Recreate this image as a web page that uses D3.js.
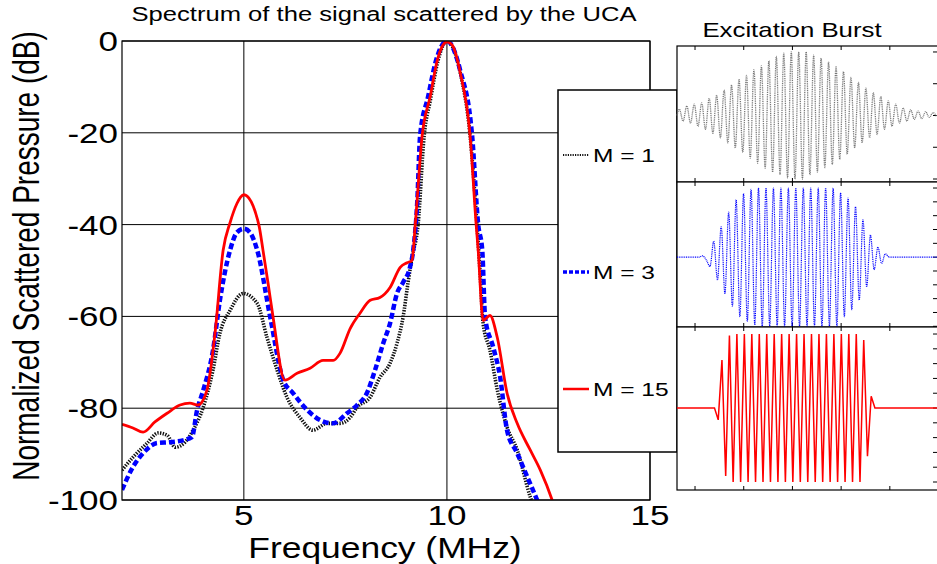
<!DOCTYPE html>
<html>
<head>
<meta charset="utf-8">
<script src="https://cdn.jsdelivr.net/npm/d3@7"></script>
<style>
  body { margin: 0; background: #fff; }
  text { font-family: "Liberation Sans", Arial, sans-serif; fill: #000; }
</style>
</head>
<body>
<div id="chart"></div>
<script>
// spectrum data (frequency in MHz, level in dB)
var m1Freq = [2.0, 2.27, 2.62, 2.89, 3.11, 3.31, 3.55, 3.75, 4.0, 4.24, 4.41, 4.66, 4.98, 5.33, 5.57, 5.82, 6.06, 6.38, 6.7, 7.05, 7.37, 7.62, 7.79, 8.11, 8.35, 8.6, 8.77, 8.92, 9.04, 9.14, 9.29, 9.44, 9.59, 9.78, 10.0, 10.33, 10.57, 10.74, 10.82, 10.89, 11.06, 11.24, 11.48, 11.73, 12.05, 12.2];
var m1Db   = [-93.5, -90.7, -87.6, -85.4, -85.9, -88.5, -87.4, -84.8, -79.8, -71.7, -63.7, -58.7, -55.0, -57.2, -64.6, -71.7, -77.6, -82.0, -84.8, -83.3, -83.3, -82.0, -79.8, -77.6, -73.3, -70.2, -65.9, -60.2, -52.8, -47.2, -40, -20.6, -13, -4.3, 0, -7, -20.6, -40, -51, -61.5, -67.4, -76, -84.1, -89.1, -99.3, -103];

var m3Freq = [2.0, 2.27, 2.52, 2.86, 3.18, 3.5, 3.72, 3.85, 4.0, 4.24, 4.41, 4.66, 4.83, 5.0, 5.15, 5.33, 5.65, 5.97, 6.21, 6.56, 6.88, 7.2, 7.54, 7.79, 8.03, 8.23, 8.43, 8.6, 8.77, 8.92, 9.09, 9.17, 9.27, 9.34, 9.54, 9.73, 10.0, 10.33, 10.62, 10.77, 10.87, 10.94, 11.14, 11.31, 11.48, 11.73, 11.98, 12.22, 12.35];
var m3Db   = [-97.8, -92.8, -89.8, -87.6, -87.4, -87.0, -86.3, -80.4, -76.1, -67.4, -56.5, -45.6, -41.7, -40.9, -41.7, -45.6, -60.2, -73.9, -76.7, -80.4, -82.6, -83.3, -81.1, -79.3, -76.7, -71.7, -65.9, -61.5, -55.0, -52.6, -49.3, -45.6, -35, -20.6, -12, -4.3, 0, -6.5, -20.6, -40, -45.6, -60.2, -66.7, -73.2, -84.8, -89.8, -95.0, -100, -103];

var m15Freq = [2.0, 2.27, 2.52, 2.81, 3.11, 3.43, 3.67, 3.87, 4.09, 4.29, 4.49, 4.66, 4.83, 4.92, 5.0, 5.08, 5.18, 5.28, 5.38, 5.47, 5.6, 5.72, 6.01, 6.31, 6.63, 6.95, 7.2, 7.37, 7.62, 7.86, 8.11, 8.35, 8.6, 8.85, 9.02, 9.14, 9.22, 9.39, 9.59, 9.76, 9.9, 10.0, 10.13, 10.33, 10.57, 10.72, 10.77, 10.89, 11.06, 11.24, 11.48, 11.73, 12.05, 12.3, 12.59, 12.7];
var m15Db   = [-83.5, -84.3, -85.2, -83.0, -81.1, -79.3, -78.9, -79.3, -76.1, -63.7, -45.6, -39.6, -35.4, -34.0, -33.5, -33.8, -35.0, -37.2, -40.5, -45.5, -53, -60.2, -73.9, -72.4, -71.3, -69.6, -69.6, -68.0, -62.6, -59.3, -56.5, -55.9, -53.7, -49.3, -48.3, -47.8, -40, -20.6, -12, -4.3, -0.9, -0.2, -0.9, -7, -20.6, -40, -45.6, -60.9, -59.8, -64.6, -76.7, -83.3, -89.1, -93.5, -100, -103];

var xTicks = [5, 10, 15];
var yTicks = [0, -20, -40, -60, -80, -100];
var legendLabels = ["M = 1", "M = 3", "M = 15"];

// excitation bursts: successive extrema (normalized), one every half period
var grayBurst = [0.10, -0.09, 0.15, -0.12, 0.18, -0.17, 0.20, -0.22, 0.27, -0.28, 0.32, -0.35, 0.40, -0.43, 0.48, -0.51, 0.57, -0.58, 0.63, -0.67, 0.72, -0.75, 0.78, -0.83, 0.86, -0.89, 0.93, -0.93, 0.98, -0.98, 1.0, -1.0, 1.0, -1.0, 1.0,
  -0.93, 0.95, -0.89, 0.90, -0.82, 0.84, -0.77, 0.77, -0.69, 0.69, -0.61, 0.60, -0.51, 0.52, -0.43, 0.43, -0.35, 0.36, -0.30, 0.30, -0.22, 0.23, -0.17, 0.18, -0.12, 0.12, -0.09, 0.09, -0.06, 0.07, -0.05, 0.06, -0.03, 0.045, -0.02];
var blueBurst = [0, 0.02, -0.04, -0.135, 0.23, -0.33, 0.44, -0.53, 0.65, -0.71, 0.83, -0.86, 0.92, -0.93, 0.98, -0.98,
  1, -1, 1, -1, 1, -1, 1, -1, 1, -1, 1, -1, 1, -1, 1, -1, 1, -1, 1, -1, 1, -1,
  0.93, -0.86, 0.855, -0.76, 0.73, -0.62, 0.54, -0.43, 0.32, -0.18, 0.145, -0.09, 0.05, 0];
var redBurst = [0, -0.16, 0.65, -0.92, 0.98,
  -1, 1, -1, 1, -1, 1, -1, 1, -1, 1, -1, 1, -1, 1, -1, 1, -1, 1, -1, 1, -1, 1, -1, 1, -1, 1, -1, 1, -1, 1, -1, 1, -1, 1, -1,
  0.92, -0.65, 0.16, 0];
var burstStart = [-0.322, 0.078, 0.40];
var halfPeriod = 0.0766;

var width = 937, height = 564;
var svg = d3.select("#chart").append("svg")
    .attr("width", width)
    .attr("height", height);

var x = d3.scaleLinear().domain([2, 15]).range([122, 650]);
var y = d3.scaleLinear().domain([-100, 0]).range([500, 41]);
var sx = 1.25;

// title
svg.append("text")
    .attr("transform", "translate(384,21) scale(1.28,1)")
    .attr("text-anchor", "middle")
    .style("font-size", "20px")
    .text("Spectrum of the signal scattered by the UCA");

svg.append("clipPath").attr("id", "plotclip")
  .append("rect").attr("x", 122).attr("y", 41).attr("width", 528).attr("height", 459);

// grid
svg.selectAll(".vgrid").data(xTicks).enter().append("line")
    .attr("x1", function(d) { return x(d); }).attr("x2", function(d) { return x(d); })
    .attr("y1", y(-100)).attr("y2", y(0))
    .attr("stroke", "#000").attr("stroke-width", 1);
svg.selectAll(".hgrid").data(yTicks).enter().append("line")
    .attr("x1", x(2)).attr("x2", x(15))
    .attr("y1", function(d) { return y(d); }).attr("y2", function(d) { return y(d); })
    .attr("stroke", "#000").attr("stroke-width", 1);

// tick labels
svg.selectAll(".ylab").data(yTicks).enter().append("text")
    .attr("transform", function(d) { return "translate(118," + (y(d) + 10) + ") scale(" + sx + ",1)"; })
    .attr("text-anchor", "end")
    .style("font-size", "28px")
    .text(function(d) { return d; });
svg.selectAll(".xlab").data(xTicks).enter().append("text")
    .attr("transform", function(d) { return "translate(" + x(d) + ",524.5) scale(" + sx + ",1)"; })
    .attr("text-anchor", "middle")
    .style("font-size", "28px")
    .text(function(d) { return d; });

svg.append("text")
    .attr("transform", "translate(385,557.5) scale(1.18,1)")
    .attr("text-anchor", "middle")
    .style("font-size", "30px")
    .text("Frequency (MHz)");
svg.append("text")
    .attr("transform", "translate(39,256) scale(1.3,1) rotate(-90)")
    .attr("text-anchor", "middle")
    .style("font-size", "28px")
    .text("Normalized Scattered Pressure (dB)");

// spectra
var series = [
  {f: m1Freq, v: m1Db, color: "#111", w: 3.6, dash: "1.4,1.3"},
  {f: m3Freq, v: m3Db, color: "#0000ff", w: 4.5, dash: "6,3"},
  {f: m15Freq, v: m15Db, color: "#ff0000", w: 2.8, dash: null}
];
var line = d3.line()
    .x(function(d) { return x(d[0]); })
    .y(function(d) { return y(d[1]); })
    .curve(d3.curveMonotoneX);
var g = svg.append("g").attr("clip-path", "url(#plotclip)");
series.forEach(function(s) {
  var pts = s.f.map(function(f, i) { return [f, s.v[i]]; });
  g.append("path")
      .attr("d", line(pts))
      .attr("fill", "none")
      .attr("stroke", s.color)
      .attr("stroke-width", s.w)
      .attr("stroke-dasharray", s.dash);
});

// frame
svg.append("rect")
    .attr("x", x(2)).attr("y", y(0))
    .attr("width", x(15) - x(2)).attr("height", y(-100) - y(0))
    .attr("fill", "none").attr("stroke", "#000").attr("stroke-width", 1.2);

// legend
var legY = [155, 272, 389];
svg.append("rect")
    .attr("x", 558).attr("y", 90).attr("width", 119).attr("height", 362)
    .attr("fill", "#fff").attr("stroke", "#000").attr("stroke-width", 1.5);
series.forEach(function(s, i) {
  svg.append("line")
      .attr("x1", 563).attr("x2", 589)
      .attr("y1", legY[i]).attr("y2", legY[i])
      .attr("stroke", s.color)
      .attr("stroke-width", i === 1 ? 3.5 : (i === 0 ? 2 : 2.5))
      .attr("stroke-dasharray", i === 0 ? "1.2,1.2" : (i === 1 ? "4,2" : null));
  svg.append("text")
      .attr("transform", "translate(593," + (legY[i] + 6.8) + ") scale(1.29,1)")
      .style("font-size", "19px")
      .text(legendLabels[i]);
});

// excitation burst panels
var xw = d3.scaleLinear().domain([-0.37, 5.03]).range([677, 940]);
var panels = [
  {top: 46, bottom: 182, dom: [-1.047, 1.094], step: 0.5, color: "#777", w: 1.3, dash: "1,0.8", curve: d3.curveMonotoneX},
  {top: 182, bottom: 327, dom: [-1.01, 1.087], step: 0.2, color: "#0000ff", w: 1.2, dash: "1,0.8", curve: d3.curveMonotoneX},
  {top: 327, bottom: 490, dom: [-1.108, 1.095], step: 0.2, color: "#ff0000", w: 1.5, dash: null, curve: d3.curveLinear}
];
var bursts = [grayBurst, blueBurst, redBurst];

svg.append("text")
    .attr("transform", "translate(792,36.7) scale(1.29,1)")
    .attr("text-anchor", "middle")
    .style("font-size", "20px")
    .text("Excitation Burst");

panels.forEach(function(p, i) {
  var yw = d3.scaleLinear().domain(p.dom).range([p.bottom, p.top]);
  var pg = svg.append("g");
  pg.append("rect")
      .attr("x", xw.range()[0]).attr("y", p.top)
      .attr("width", xw.range()[1] - xw.range()[0]).attr("height", p.bottom - p.top)
      .attr("fill", "#fff").attr("stroke", "#000").attr("stroke-width", 1.2);
  var tx = d3.range(0, 6);
  tx.forEach(function(t) {
    pg.append("line").attr("x1", xw(t)).attr("x2", xw(t))
        .attr("y1", p.top).attr("y2", p.top + 4).attr("stroke", "#000");
    pg.append("line").attr("x1", xw(t)).attr("x2", xw(t))
        .attr("y1", p.bottom).attr("y2", p.bottom - 4).attr("stroke", "#000");
  });
  yw.ticks(Math.round(2 / p.step)).forEach(function(v) {
    pg.append("line").attr("x1", 933).attr("x2", 937)
        .attr("y1", yw(v)).attr("y2", yw(v)).attr("stroke", "#000");
  });
  var vals = bursts[i];
  var pts = [[xw.domain()[0], 0]];
  vals.forEach(function(v, k) { pts.push([burstStart[i] + k * halfPeriod, v]); });
  if (i > 0) pts.push([xw.domain()[1], 0]);
  var wl = d3.line()
      .x(function(d) { return xw(d[0]); })
      .y(function(d) { return yw(d[1]); })
      .curve(p.curve);
  pg.append("path")
      .attr("d", wl(pts))
      .attr("fill", "none")
      .attr("stroke", p.color)
      .attr("stroke-width", p.w)
      .attr("stroke-dasharray", p.dash);
});
</script>
</body>
</html>
